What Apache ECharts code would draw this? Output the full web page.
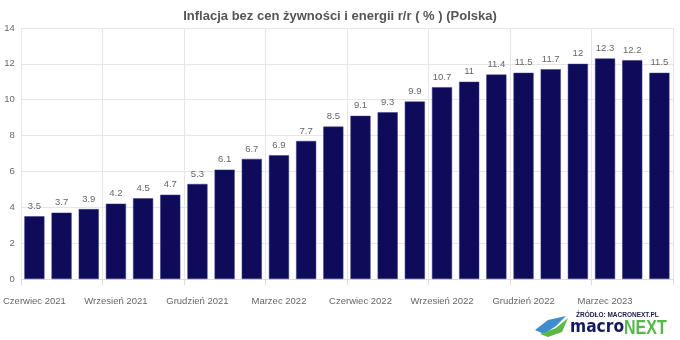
<!DOCTYPE html>
<html><head><meta charset="utf-8">
<script src="https://cdn.jsdelivr.net/npm/echarts@6/dist/echarts.min.js"></script>
<style>html,body{margin:0;padding:0;background:#fff}#c{width:680px;height:340px}</style>
</head><body><div id="c"></div>
<script>
const categories = ["Czerwiec 2021","Lipiec 2021","Sierpień 2021","Wrzesień 2021","Październik 2021","Listopad 2021","Grudzień 2021","Styczeń 2022","Luty 2022","Marzec 2022","Kwiecień 2022","Maj 2022","Czerwiec 2022","Lipiec 2022","Sierpień 2022","Wrzesień 2022","Październik 2022","Listopad 2022","Grudzień 2022","Styczeń 2023","Luty 2023","Marzec 2023","Kwiecień 2023","Maj 2023"];
const values = [3.5,3.7,3.9,4.2,4.5,4.7,5.3,6.1,6.7,6.9,7.7,8.5,9.1,9.3,9.9,10.7,11,11.4,11.5,11.7,12,12.3,12.2,11.5];
const titleText = "Inflacja bez cen żywności i energii r/r ( % ) (Polska)";

const chart = echarts.init(document.getElementById('c'));
chart.setOption({
  animation:false,
  title:{text:titleText,left:'center',top:5,textStyle:{fontFamily:'Liberation Sans',fontSize:13,fontWeight:'bold',color:'#555'}},
  grid:{left:20,right:7,top:28,bottom:61},
  xAxis:{type:'category',data:categories,
    axisLine:{lineStyle:{color:'#ddd'}},
    axisTick:{show:true,interval:2,length:6,lineStyle:{color:'#ddd'}},
    splitLine:{show:true,interval:function(i){return i%3===0 && i<categories.length;},lineStyle:{color:'#e6e6e6'}},
    axisLabel:{interval:2,color:'#666',fontFamily:'Liberation Sans',fontSize:9.5,margin:17}},
  yAxis:{type:'value',min:0,max:14,interval:2,
    axisLine:{show:false},axisTick:{show:false},
    splitLine:{lineStyle:{color:'#e6e6e6'}},
    axisLabel:{color:'#666',fontFamily:'Liberation Sans',fontSize:9.5,margin:6}},
  series:[{type:'bar',data:values,barWidth:'74%',
    itemStyle:{color:'#0e0c5a',borderColor:'#3a3a80',borderWidth:0.5},
    label:{show:true,position:'top',color:'#666',fontFamily:'Liberation Sans',fontSize:9.5,distance:5}}],
  graphic:[
    {type:'text',left:576,top:312,style:{text:'ŹRÓDŁO: MACRONEXT.PL',fontFamily:'Liberation Sans',fontSize:6.5,fontWeight:'bold',fill:'#1a1a4a'}},
    {type:'text',x:570,y:318,scaleX:0.86,style:{text:'macro',fontFamily:'DejaVu Sans',fontSize:18,fontWeight:'bold',fill:'#151a5c'}},
    {type:'text',x:624,y:318,scaleX:0.8,style:{text:'NEXT',fontFamily:'Liberation Sans',fontSize:20,fontWeight:'bold',fill:'#55b84a'}},
    {type:'polygon',shape:{points:[[535,330],[548,320],[566,316],[556,326],[544,334]]},style:{fill:'#3f8ccf'}},
    {type:'polygon',shape:{points:[[540,334],[556,328],[568,318],[562,332],[548,337]]},style:{fill:'#5bb846'}}
  ]
});
</script></body></html>
